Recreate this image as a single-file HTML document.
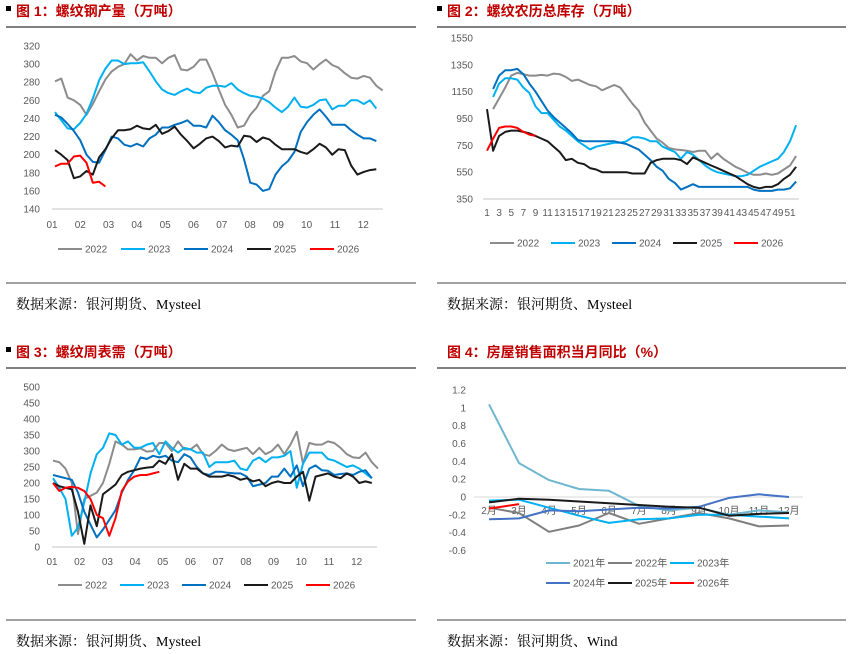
<!DOCTYPE html>
<html><head><meta charset="utf-8">
<style>
body{margin:0;background:#fff;width:852px;height:654px;overflow:hidden;font-family:"Liberation Sans","Noto Sans CJK SC",sans-serif;}
svg{position:absolute;left:0;top:0}
</style></head>
<body>
<svg id="c" width="852" height="654" xmlns="http://www.w3.org/2000/svg"></svg>
<script>
// ---- Chart 1: rebar output (weekly) ----
const c1Months=["01","02","03","04","05","06","07","08","09","10","11","12"];
const c1Ticks=[140,160,180,200,220,240,260,280,300,320];
const c1y2022=[281,284,263,260,255,244,256,270,283,292,297,300,311,304,309,307,307,301,307,310,294,293,297,305,305,290,272,255,244,230,232,244,252,265,270,292,307,307,309,303,301,294,300,305,299,296,290,285,284,287,285,276,271];
const c1y2023=[247,238,229,228,235,245,262,282,295,304,304,300,301,301,302,292,281,272,268,266,270,273,269,268,274,276,276,275,279,272,268,265,264,262,258,252,247,253,263,253,252,255,260,261,250,254,254,260,260,256,260,251];
const c1y2024=[244,241,234,226,216,200,192,191,205,220,218,211,209,212,209,218,222,230,230,233,235,238,232,232,230,243,236,227,222,216,195,169,167,160,162,178,187,193,203,225,236,244,250,242,233,233,233,227,222,218,218,215];
const c1y2025=[205,200,194,174,176,182,178,197,206,218,227,227,228,232,229,228,233,223,226,231,222,215,207,212,218,220,215,208,210,209,221,220,214,219,217,211,206,206,206,203,201,206,212,208,200,206,205,188,178,181,183,184];
const c1y2026=[187,190,190,198,199,191,169,170,165];
// ---- Chart 2: rebar inventory (lunar weeks) ----
const c2Weeks=[1,3,5,7,9,11,13,15,17,19,21,23,25,27,29,31,33,35,37,39,41,43,45,47,49,51];
const c2Ticks=[350,550,750,950,1150,1350,1550];
const c2y2022=[null,1020,1100,1180,1270,1290,1280,1270,1270,1275,1270,1285,1280,1260,1230,1240,1220,1200,1190,1160,1180,1200,1180,1120,1060,1010,920,860,800,770,730,720,715,710,700,710,710,650,690,650,620,590,570,545,530,530,540,530,540,570,600,670];
const c2y2023=[null,1110,1210,1250,1250,1240,1180,1140,1040,990,990,940,890,860,820,780,750,720,740,750,760,770,770,780,810,810,800,780,780,740,720,700,650,700,680,640,600,570,550,540,530,520,520,530,560,590,610,630,650,700,780,900];
const c2y2024=[null,1170,1270,1310,1310,1320,1280,1210,1150,1080,1010,960,920,880,840,790,780,780,780,780,780,780,770,760,740,720,680,640,590,560,500,470,420,440,460,440,440,440,440,440,440,440,440,440,420,410,410,410,420,420,430,480];
const c2y2025=[1020,710,820,850,860,860,850,840,820,800,780,740,700,640,650,620,610,580,570,550,550,550,550,550,540,540,540,620,640,650,650,650,640,610,660,640,620,600,580,560,540,520,490,460,440,430,440,440,460,500,530,590];
const c2y2026=[710,800,880,890,890,880,850,830,820];
// ---- Chart 3: rebar apparent demand (weekly) ----
const c3Months=["01","02","03","04","05","06","07","08","09","10","11","12"];
const c3Ticks=[0,50,100,150,200,250,300,350,400,450,500];
const c3y2022=[270,265,245,200,40,150,160,170,200,260,330,320,305,305,308,298,300,325,325,300,330,305,305,320,290,285,300,320,305,300,305,310,290,310,290,300,320,290,320,360,260,325,320,320,330,325,310,290,280,278,295,265,245];
const c3y2023=[215,185,150,35,60,140,230,290,310,355,350,320,330,310,310,320,325,290,330,310,295,310,305,295,295,250,265,265,265,270,245,240,270,280,265,280,280,285,300,185,260,295,295,295,275,270,260,250,255,245,230,215];
const c3y2024=[225,220,215,210,170,110,70,30,55,85,115,170,210,240,280,275,285,280,285,270,265,290,280,250,230,225,235,235,232,230,230,220,190,195,200,220,220,245,220,255,190,245,255,240,238,225,228,230,225,235,240,215];
const c3y2025=[200,190,185,180,110,10,130,65,165,180,195,225,235,240,245,248,250,270,260,290,210,260,245,245,230,220,220,220,225,220,210,215,205,210,190,200,205,200,200,220,235,145,220,225,230,220,215,230,220,200,205,200];
const c3y2026=[200,175,185,188,185,175,150,100,90,35,90,175,205,220,225,225,230,235];
// ---- Chart 4: housing sales area YoY (monthly) ----
const c4Months=["2月","3月","4月","5月","6月","7月","8月","9月","10月","11月","12月"];
const c4Ticks=[-0.6,-0.4,-0.2,0,0.2,0.4,0.6,0.8,1,1.2];
const c4y2021=[1.04,0.38,0.19,0.09,0.07,-0.10,-0.15,-0.12,-0.20,-0.15,-0.17];
const c4y2022=[-0.12,-0.18,-0.39,-0.32,-0.18,-0.30,-0.24,-0.18,-0.24,-0.33,-0.32];
const c4y2023=[-0.04,-0.03,-0.12,-0.21,-0.29,-0.25,-0.24,-0.20,-0.20,-0.22,-0.24];
const c4y2024=[-0.25,-0.24,-0.15,-0.16,-0.14,-0.12,-0.13,-0.11,-0.01,0.03,0.00];
const c4y2025=[-0.06,-0.02,-0.03,-0.05,-0.07,-0.09,-0.11,-0.12,-0.21,-0.19,-0.18];
const c4y2026=[-0.13,-0.08];

const NS="http://www.w3.org/2000/svg";
const svg=document.getElementById('c');
function mk(tag,attrs,parent,text){const e=document.createElementNS(NS,tag);for(const k in attrs)e.setAttribute(k,attrs[k]);if(text!==undefined)e.textContent=text;(parent||svg).appendChild(e);return e;}
function scale(d0,d1,r0,r1){return v=>r0+(v-d0)*(r1-r0)/(d1-d0);}
function drawLine(g,vals,xf,yf,color,name){
  let d="";let started=false;
  vals.forEach((v,i)=>{if(v===null)return;d+=(started?"L":"M")+xf(i).toFixed(1)+","+yf(v).toFixed(1);started=true;});
  const p=mk('path',{d:d,fill:'none',stroke:color,'stroke-width':2,'stroke-linejoin':'round'},g);
  
  
}
function legend(g,items,y,startX,gap){
  let x=startX;
  items.forEach(it=>{
    const lg=mk('g',{},g);
    
    
    mk('line',{x1:x,y1:y,x2:x+24,y2:y,stroke:it[1],'stroke-width':2},lg);
    mk('text',{x:x+27,y:y+3.5,'font-size':10,fill:'#595959'},lg,it[0]);
    x+=gap;
  });
}
function header(x,y,lineX1,lineX2,title,idx,square){
  const g=mk('g',{});
  
  
  if(square)mk('rect',{x:x-10,y:y-10,width:5,height:5,fill:'#000'},g);
  mk('text',{x:x,y:y,'font-size':14,'font-weight':'bold',fill:'#c00000'},g,title);
  mk('line',{x1:lineX1,y1:y+11,x2:lineX2,y2:y+11,stroke:'#000','stroke-width':1},g);
}
function footer(x,y,lineX1,lineX2,txt,idx){
  const g=mk('g',{});
  
  
  mk('line',{x1:lineX1,y1:y-26,x2:lineX2,y2:y-26,stroke:'#000','stroke-width':0.8},g);
  mk('text',{x:x,y:y,'font-size':14,fill:'#000','font-family':'"Liberation Serif","Noto Serif CJK SC",serif'},g,txt);
}
function yAxis(g,ticks,yf,xr,fmt){
  ticks.forEach(t=>{const e=mk('text',{x:xr,y:yf(t)+3.5,'font-size':10,fill:'#595959','text-anchor':'end'},g,fmt?fmt(t):String(t));
    });
}

// Chart 1
header(16,16,6,416,'图 1：螺纹钢产量（万吨）',1,true);
{const g=mk('g',{});
 const yf=scale(140,320,209,46);const wx=i=>55+i*6.3;const mx=i=>52+i*28.3;
 yAxis(g,c1Ticks,yf,40);
 mk('line',{x1:52,y1:209,x2:383,y2:209,stroke:'#d9d9d9','stroke-width':1.5},g);
 c1Months.forEach((m,i)=>{const e=mk('text',{x:mx(i),y:228,'font-size':10,fill:'#595959','text-anchor':'middle'},g,m);});
 drawLine(g,c1y2022,wx,yf,'#8c8c8c','line-2022');
 drawLine(g,c1y2023,wx,yf,'#00b0f0','line-2023');
 drawLine(g,c1y2024,wx,yf,'#0070c0','line-2024');
 drawLine(g,c1y2025,wx,yf,'#1a1a1a','line-2025');
 drawLine(g,c1y2026,wx,yf,'#ff0000','line-2026');
 legend(g,[['2022','#8c8c8c'],['2023','#00b0f0'],['2024','#0070c0'],['2025','#1a1a1a'],['2026','#ff0000']],249,58,63);
}
footer(16,309,6,416,'数据来源：银河期货、Mysteel',1);

// Chart 2
header(447,16,437,846,'图 2：螺纹农历总库存（万吨）',2,true);
{const g=mk('g',{});
 const yf=scale(350,1550,199,38);const wx=i=>487+i*6.06;
 yAxis(g,c2Ticks,yf,473);
 mk('line',{x1:483,y1:199,x2:799,y2:199,stroke:'#d9d9d9','stroke-width':1.5},g);
 c2Weeks.forEach(w=>{const e=mk('text',{x:wx(w-1),y:216,'font-size':10,fill:'#595959','text-anchor':'middle'},g,String(w));});
 drawLine(g,c2y2022,wx,yf,'#8c8c8c','line-2022');
 drawLine(g,c2y2023,wx,yf,'#00b0f0','line-2023');
 drawLine(g,c2y2024,wx,yf,'#0070c0','line-2024');
 drawLine(g,c2y2025,wx,yf,'#1a1a1a','line-2025');
 drawLine(g,c2y2026,wx,yf,'#ff0000','line-2026');
 legend(g,[['2022','#8c8c8c'],['2023','#00b0f0'],['2024','#0070c0'],['2025','#1a1a1a'],['2026','#ff0000']],243,490,61);
}
footer(447,309,437,846,'数据来源：银河期货、Mysteel',2);

// Chart 3
header(16,357,6,416,'图 3：螺纹周表需（万吨）',3,true);
{const g=mk('g',{});
 const yf=scale(0,500,547,387);const wx=i=>53+i*6.25;const mx=i=>52+i*27.7;
 yAxis(g,c3Ticks,yf,40);
 mk('line',{x1:52,y1:547,x2:377,y2:547,stroke:'#d9d9d9','stroke-width':1.5},g);
 c3Months.forEach((m,i)=>{const e=mk('text',{x:mx(i),y:565,'font-size':10,fill:'#595959','text-anchor':'middle'},g,m);});
 drawLine(g,c3y2022,wx,yf,'#8c8c8c','line-2022');
 drawLine(g,c3y2023,wx,yf,'#00b0f0','line-2023');
 drawLine(g,c3y2024,wx,yf,'#0070c0','line-2024');
 drawLine(g,c3y2025,wx,yf,'#1a1a1a','line-2025');
 drawLine(g,c3y2026,wx,yf,'#ff0000','line-2026');
 legend(g,[['2022','#8c8c8c'],['2023','#00b0f0'],['2024','#0070c0'],['2025','#1a1a1a'],['2026','#ff0000']],585,58,62);
}
footer(16,646,6,416,'数据来源：银河期货、Mysteel',3);

// Chart 4
header(447,357,437,846,'图 4：房屋销售面积当月同比（%）',4,false);
{const g=mk('g',{});
 const yf=scale(0,1.2,497,390);const mx=i=>489+i*30;
 yAxis(g,c4Ticks,yf,466,t=>String(Math.round(t*10)/10));
 mk('line',{x1:474,y1:yf(0),x2:803,y2:yf(0),stroke:'#d9d9d9','stroke-width':1},g);
 c4Months.forEach((m,i)=>{const e=mk('text',{x:mx(i),y:514,'font-size':10,fill:'#595959','text-anchor':'middle'},g,m);});
 drawLine(g,c4y2021,mx,yf,'#6fb7d0','line-2021');
 drawLine(g,c4y2022,mx,yf,'#7f7f7f','line-2022');
 drawLine(g,c4y2023,mx,yf,'#00b0f0','line-2023');
 drawLine(g,c4y2024,mx,yf,'#4472c4','line-2024');
 drawLine(g,c4y2025,mx,yf,'#1a1a1a','line-2025');
 drawLine(g,c4y2026,mx,yf,'#ff0000','line-2026');
 legend(g,[['2021年','#6fb7d0'],['2022年','#7f7f7f'],['2023年','#00b0f0']],563,546,62);
 legend(g,[['2024年','#4472c4'],['2025年','#1a1a1a'],['2026年','#ff0000']],583,546,62);
}
footer(447,646,437,846,'数据来源：银河期货、Wind',4);
</script>
</body></html>
